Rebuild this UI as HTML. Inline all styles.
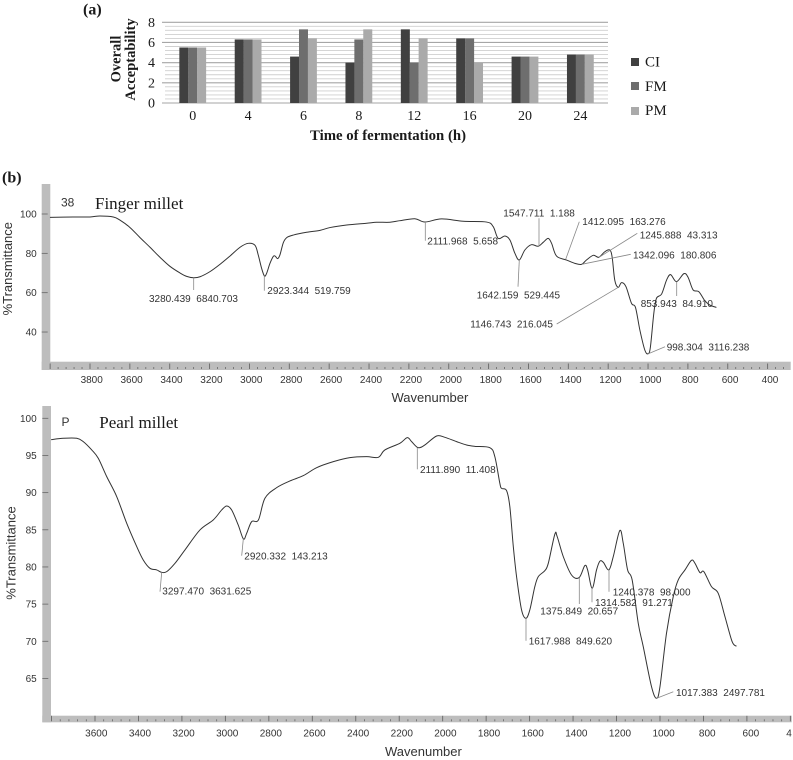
<!DOCTYPE html>
<html lang="en">
<head>
<meta charset="utf-8">
<title>Overall acceptability and FTIR spectra</title>
<style>
html,body{margin:0;padding:0;background:#fff;width:793px;height:760px;overflow:hidden}
svg{display:block;filter:blur(.3px)}
.serif{font-family:"Liberation Serif",serif;fill:#1a1a1a}
.sans{font-family:"Liberation Sans",sans-serif;fill:#333}
.b{font-weight:bold}
.pk{font-size:10px;white-space:pre}
.lead{stroke:#888;stroke-width:.8;fill:none}
</style>
</head>
<body>
<svg id="figure" xmlns="http://www.w3.org/2000/svg" width="793" height="760" viewBox="0 0 793 760">
  <defs><clipPath id="pearlClip"><rect width="792" height="760"/></clipPath></defs>
  <rect width="793" height="760" fill="#fff"/>

  <!-- Panel (a) -->
  <text class="serif b" x="83" y="14.5" font-size="16">(a)</text>
  <g id="bars"></g>
  <text class="serif b" font-size="14.5" text-anchor="middle" transform="translate(120.5,59) rotate(-90)">Overall</text>
  <text class="serif b" font-size="14.5" text-anchor="middle" transform="translate(135,59.5) rotate(-90)">Acceptability</text>
  <text class="serif b" x="388" y="140" font-size="14.5" text-anchor="middle" textLength="156" lengthAdjust="spacingAndGlyphs">Time of fermentation (h)</text>
  <g>
    <rect x="631" y="58" width="8" height="8" fill="#404040"/>
    <text class="serif" x="645" y="66.5" font-size="15">CI</text>
    <rect x="631" y="82" width="8" height="8" fill="#6e6e6e"/>
    <text class="serif" x="645" y="91" font-size="15">FM</text>
    <rect x="631" y="107" width="8" height="8" fill="#aaaaaa"/>
    <text class="serif" x="645" y="115" font-size="15">PM</text>
  </g>

  <!-- Panel (b) -->
  <text class="serif b" x="2" y="182.5" font-size="16">(b)</text>

  <!-- Finger millet -->
  <g id="fingerAxes"></g>
  <path id="fingerLine" fill="none" stroke="#333" stroke-width="1" stroke-linejoin="round"/>
  <text class="sans" x="61" y="206.5" font-size="12">38</text>
  <text class="serif" x="95" y="209" font-size="17">Finger millet</text>
  <text class="sans" font-size="13" text-anchor="middle" transform="translate(12,268.7) rotate(-90)">%Transmittance</text>
  <text class="sans" x="391.5" y="402" font-size="13">Wavenumber</text>
  <g>
    <path class="lead" d="M193.7 277.7V290"/>
    <path class="lead" d="M264.3 276V290.7"/>
    <path class="lead" d="M425.3 222V240.7"/>
    <path class="lead" d="M519.3 260L518 286.7"/>
    <path class="lead" d="M539 246.3V218.3"/>
    <path class="lead" d="M565.7 259.3L579.3 221.7"/>
    <path class="lead" d="M599 257.3L637.3 233.3"/>
    <path class="lead" d="M581.7 264.3L630.7 254.3"/>
    <path class="lead" d="M618.3 287.3L556.7 324"/>
    <path class="lead" d="M676.7 281.7V296"/>
    <path class="lead" d="M648.3 353.7L665 346.7"/>
    <text class="sans pk" x="149" y="302">3280.439  6840.703</text>
    <text class="sans pk" x="267.3" y="294">2923.344  519.759</text>
    <text class="sans pk" x="427.3" y="244.3">2111.968  5.658</text>
    <text class="sans pk" x="476.7" y="298.3">1642.159  529.445</text>
    <text class="sans pk" x="503.3" y="216.3">1547.711  1.188</text>
    <text class="sans pk" x="582.3" y="225">1412.095  163.276</text>
    <text class="sans pk" x="639.7" y="238.3">1245.888  43.313</text>
    <text class="sans pk" x="633" y="258.7">1342.096  180.806</text>
    <text class="sans pk" x="470.3" y="327.3">1146.743  216.045</text>
    <text class="sans pk" x="640.7" y="307">853.943  84.910</text>
    <text class="sans pk" x="666.7" y="350.3">998.304  3116.238</text>
  </g>

  <!-- Pearl millet -->
  <g id="pearlAxes" clip-path="url(#pearlClip)"></g>
  <path id="pearlLine" fill="none" stroke="#333" stroke-width="1" stroke-linejoin="round"/>
  <text class="sans" x="61.5" y="426" font-size="12">P</text>
  <text class="serif" x="99.3" y="428" font-size="17">Pearl millet</text>
  <text class="sans" font-size="13" text-anchor="middle" transform="translate(15.5,553) rotate(-90)">%Transmittance</text>
  <text class="sans" x="385" y="756" font-size="13">Wavenumber</text>
  <g>
    <path class="lead" d="M161.7 572.3L160 591.7"/>
    <path class="lead" d="M243.3 539L241.7 555.7"/>
    <path class="lead" d="M417.3 447.7V469.3"/>
    <path class="lead" d="M526 618.3V640.7"/>
    <path class="lead" d="M579.3 577.7V604"/>
    <path class="lead" d="M592 588.3V602.3"/>
    <path class="lead" d="M609 570V591.7"/>
    <path class="lead" d="M656.7 698.3L673.3 691.7"/>
    <text class="sans pk" x="162.3" y="594.7">3297.470  3631.625</text>
    <text class="sans pk" x="244.3" y="559.3">2920.332  143.213</text>
    <text class="sans pk" x="420" y="473">2111.890  11.408</text>
    <text class="sans pk" x="528.7" y="644.7">1617.988  849.620</text>
    <text class="sans pk" x="540.3" y="614.7">1375.849  20.657</text>
    <text class="sans pk" x="595" y="606">1314.582  91.271</text>
    <text class="sans pk" x="612.7" y="595.3">1240.378  98.000</text>
    <text class="sans pk" x="676" y="696">1017.383  2497.781</text>
  </g>
</svg>

<script>
// ---- Panel (a) data ----
const categories = ['0', '4', '6', '8', '12', '16', '20', '24'];
const ciValues = [5.5, 6.3, 4.6, 4.0, 7.3, 6.4, 4.6, 4.8];
const fmValues = [5.5, 6.3, 7.3, 6.3, 4.0, 6.4, 4.6, 4.8];
const pmValues = [5.5, 6.3, 6.4, 7.3, 6.4, 4.0, 4.6, 4.8];
const acceptTicks = [0, 2, 4, 6, 8];

// ---- Finger millet spectrum data ----
const fingerWavenumbers = [4001,3884,3800,3750,3683,3650,3599,3549,3499,3449,3399,3348,3315,3280,3248,3198,3148,3098,3047,3006,2972,2956,2939,2925,2914,2897,2880,2870,2859,2847,2830,2813,2780,2713,2646,2596,2512,2412,2362,2295,2245,2170,2120,2036,1927,1810,1777,1752,1718,1693,1668,1646,1618,1585,1551,1526,1501,1484,1459,1409,1367,1334,1309,1275,1247,1217,1192,1180,1167,1150,1133,1111,1083,1063,1041,1016,999,988,971,958,932,907,887,857,820,799,774,745,715,690,657];
const fingerTransmittance = [98.3,98.5,98.5,99.0,98.5,96.9,93.1,88.0,83.1,78.0,73.4,70.0,68.3,67.6,68.1,70.7,74.4,78.6,83.1,85.1,84.1,79.2,72.4,68.5,69.8,74.9,78.5,78.5,77.3,79.2,85.4,88.0,89.3,90.7,91.7,93.1,94.4,95.3,95.8,95.8,96.6,97.6,95.9,97.5,96.3,95.9,93.6,87.6,88.8,86.8,80.0,76.6,81.7,84.4,83.6,85.6,87.6,85.1,78.6,76.6,74.9,74.4,76.6,79.0,78.0,80.8,81.7,78.0,66.4,62.7,65.1,63.1,54.6,52.5,41.0,30.8,29.0,32.5,49.5,57.1,59.3,66.4,69.2,65.6,69.7,67.8,61.4,60.5,55.9,53.7,52.5];
const fingerXTicks = [3800,3600,3400,3200,3000,2800,2600,2400,2200,2000,1800,1600,1400,1200,1000,800,600,400];
const fingerYTicks = [100,80,60,40];

// ---- Pearl millet spectrum data ----
const pearlWavenumbers = [3802,3746,3684,3654,3615,3585,3546,3500,3454,3408,3378,3347,3316,3293,3270,3232,3186,3117,3056,3017,2994,2971,2941,2917,2902,2879,2848,2818,2764,2703,2641,2580,2503,2427,2350,2296,2266,2197,2163,2143,2113,2082,2028,1990,1936,1890,1852,1783,1760,1737,1729,1706,1691,1675,1660,1637,1617,1599,1576,1560,1530,1514,1484,1473,1445,1407,1372,1346,1333,1312,1292,1277,1261,1235,1215,1185,1169,1149,1128,1100,1077,1039,1016,1000,970,939,916,885,855,839,816,798,763,732,701,668,648];
const pearlTransmittance = [97.13,97.31,97.31,96.86,95.74,94.62,92.15,89.46,85.87,82.74,80.94,79.82,79.6,79.28,79.37,80.49,82.29,84.98,86.32,87.67,88.21,87.67,85.65,83.77,84.53,86.1,86.32,89.24,90.67,91.57,92.29,93.36,94.17,94.71,94.84,94.75,95.74,96.64,97.4,96.86,96.05,96.41,97.62,97.44,96.86,96.41,96.23,96.05,94.84,91.26,90.58,90.27,88.12,82.74,78.7,74.22,73.09,74.22,77.35,78.7,79.5,80.49,84.39,84.08,81.39,78.92,78.57,80.18,79.6,77.13,79.6,80.76,80.63,79.6,81.39,84.89,83.18,79.6,78.25,72.42,69.28,63.9,62.33,63.9,71.08,76.01,78.25,79.6,80.9,80.49,79.24,79.37,77.35,76.46,73.32,69.96,69.33];
const pearlXTicks = [3600,3400,3200,3000,2800,2600,2400,2200,2000,1800,1600,1400,1200,1000,800,600,400];
const pearlYTicks = [100,95,90,85,80,75,70,65];

const NS = 'http://www.w3.org/2000/svg';
function mk(parent, tag, attrs, text) {
  const el = document.createElementNS(NS, tag);
  for (const k in attrs) el.setAttribute(k, attrs[k]);
  if (text !== undefined) el.textContent = text;
  parent.appendChild(el);
  return el;
}

// ---- Panel (a) axis functions ----
const plotL = 165, plotR = 608;
const bandW = (plotR - plotL) / categories.length;
const barW = 8.9;
const yA = v => 103 - v * 10.09;
const xA = i => plotL + bandW * (i + 0.5);

const barsG = document.getElementById('bars');
// minor + major gridlines
for (let k = 0; k <= 20; k++) {
  const v = k * 0.4;
  const major = k % 5 === 0;
  const line = mk(barsG, 'line', {x1: major ? 162 : plotL, x2: plotR, y1: yA(v), y2: yA(v), stroke: major ? '#a6a6a6' : '#cfcfcf', 'stroke-width': major ? 1.1 : 0.9});
  
  
}
acceptTicks.forEach(t => {
  const label = mk(barsG, 'text', {x: 155, y: yA(t) + 4.6, 'text-anchor': 'end', 'font-size': 14, class: 'serif'}, String(t));
  
  
});
const seriesList = [[ciValues, '#404040', 'ci'], [fmValues, '#6e6e6e', 'fm'], [pmValues, '#aaaaaa', 'pm']];
categories.forEach((c, i) => {
  seriesList.forEach((s, j) => {
    const v = s[0][i];
    const bar = mk(barsG, 'rect', {x: xA(i) + (j - 1.5) * barW, y: yA(v), width: barW + 0.1, height: yA(0) - yA(v), fill: s[1]});
    
    
  });
  const label = mk(barsG, 'text', {x: xA(i), y: 120, 'text-anchor': 'middle', 'font-size': 14, class: 'serif'}, c);
  
  
});

// ---- Spectrum drawing ----
function smoothPath(xs, ys) {
  let d = 'M' + xs[0].toFixed(2) + ' ' + ys[0].toFixed(2);
  for (let i = 0; i < xs.length - 1; i++) {
    const p0 = Math.max(i - 1, 0), p3 = Math.min(i + 2, xs.length - 1);
    const c1x = xs[i] + (xs[i + 1] - xs[p0]) / 6, c1y = ys[i] + (ys[i + 1] - ys[p0]) / 6;
    const c2x = xs[i + 1] - (xs[p3] - xs[i]) / 6, c2y = ys[i + 1] - (ys[p3] - ys[i]) / 6;
    d += 'C' + c1x.toFixed(2) + ' ' + c1y.toFixed(2) + ' ' + c2x.toFixed(2) + ' ' + c2y.toFixed(2) + ' ' + xs[i + 1].toFixed(2) + ' ' + ys[i + 1].toFixed(2);
  }
  return d;
}

function drawAxes(g, cfg) {
  const band1 = mk(g, 'rect', {x: cfg.left, y: cfg.top, width: cfg.bandW, height: cfg.bottom - cfg.top, fill: '#bdbdbd'});
  
  
  const band2 = mk(g, 'rect', {x: cfg.left, y: cfg.bandTop, width: cfg.right - cfg.left, height: cfg.bottom - cfg.bandTop, fill: '#bdbdbd'});
  
  
  for (let w = cfg.startW; cfg.x(w) <= cfg.right; w -= 40) {
    const major = w % 200 === 0;
    const tick = mk(g, 'line', {x1: cfg.x(w), x2: cfg.x(w), y1: cfg.bottom - (major ? 6.5 : 3), y2: cfg.bottom - 1, stroke: '#666', 'stroke-width': major ? 0.9 : 0.8});
    
    
  }
  cfg.xTicks.forEach(w => {
    const label = mk(g, 'text', {x: cfg.xLabel(w), y: cfg.xLabelY, 'text-anchor': 'middle', 'font-size': 10, class: 'sans'}, String(w));
    
    
  });
  cfg.yTicks.forEach(t => {
    const tick = mk(g, 'line', {x1: cfg.left, x2: cfg.left + 6, y1: cfg.y(t), y2: cfg.y(t), stroke: '#666', 'stroke-width': 0.8});
    
    
    const label = mk(g, 'text', {x: 36.7, y: cfg.y(t) + 3.5, 'text-anchor': 'end', 'font-size': 10, class: 'sans'}, String(t));
    
    
  });
}

const xFinger = w => 90 + (3800 - w) * 0.1993;
const yFinger = t => 214 + (100 - t) * 1.967;
const xPearl = w => 95 + (3600 - w) * 0.2173;
const yPearl = t => 418.3 + (100 - t) * 7.433;

drawAxes(document.getElementById('fingerAxes'), {
  left: 41.7, bandW: 8.6, top: 184, bottom: 370, bandTop: 361.7, right: 790.7,
  x: xFinger, y: yFinger, startW: 4000, xTicks: fingerXTicks, yTicks: fingerYTicks,
  xLabel: w => 91.7 + (3800 - w) * 0.1995, xLabelY: 383
});
drawAxes(document.getElementById('pearlAxes'), {
  left: 42.3, bandW: 8.7, top: 406, bottom: 722.3, bandTop: 715.7, right: 791.7,
  x: xPearl, y: yPearl, startW: 3800, xTicks: pearlXTicks, yTicks: pearlYTicks,
  xLabel: w => 96.3 + (3600 - w) * 0.2182, xLabelY: 736.7
});

document.getElementById('fingerLine').setAttribute('d', smoothPath(fingerWavenumbers.map(xFinger), fingerTransmittance.map(yFinger)));
document.getElementById('pearlLine').setAttribute('d', smoothPath(pearlWavenumbers.map(xPearl), pearlTransmittance.map(yPearl)));
</script>
</body>
</html>
